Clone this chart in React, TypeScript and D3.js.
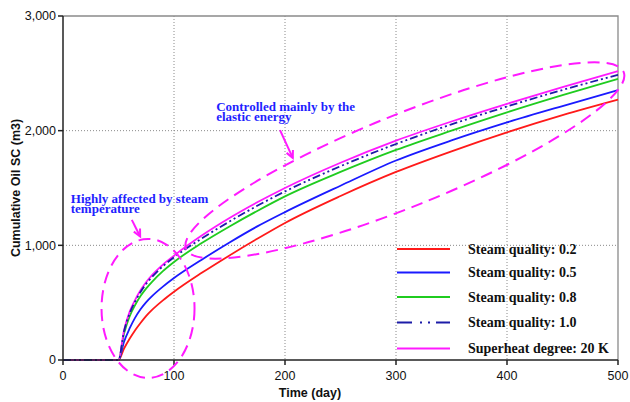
import * as d3 from 'd3';

// Time axis (day) and cumulative oil SC (m3)
const days = [0, 50, 55, 60, 65, 70, 75, 80, 90, 100, 125, 150, 175, 200, 250, 300, 350, 400, 450, 500];
const quality02 = [0, 0, 100, 185, 260, 325, 385, 435, 520, 595, 760, 912, 1057, 1195, 1430, 1640, 1820, 1985, 2135, 2270];
const quality05 = [0, 0, 160, 275, 370, 445, 505, 555, 640, 715, 875, 1025, 1165, 1290, 1520, 1740, 1915, 2072, 2215, 2353];
const quality08 = [0, 0, 230, 380, 480, 560, 625, 680, 775, 855, 1020, 1165, 1300, 1427, 1640, 1832, 2000, 2160, 2310, 2452];
const quality10 = [0, 0, 250, 405, 510, 595, 665, 722, 818, 895, 1060, 1208, 1345, 1470, 1690, 1884, 2055, 2211, 2355, 2487];
const superheat20 = [0, 0, 260, 420, 525, 610, 680, 738, 832, 910, 1085, 1238, 1375, 1500, 1720, 1913, 2080, 2234, 2380, 2519];

const xTicks = [0, 100, 200, 300, 400, 500];
const yTicks = [0, 1000, 2000, 3000];

const legendLabels = [
  'Steam quality: 0.2',
  'Steam quality: 0.5',
  'Steam quality: 0.8',
  'Steam quality: 1.0',
  'Superheat degree: 20 K',
];

const W = 630;
const H = 402;
const margin = { top: 16, right: 12, bottom: 42, left: 63 };

const series = [
  { values: quality02, color: '#ff1a1a', dash: null, legendDash: null },
  { values: quality05, color: '#1a1aff', dash: null, legendDash: null },
  { values: quality08, color: '#1fcc1f', dash: null, legendDash: null },
  { values: superheat20, color: '#ff1aff', dash: null, legendDash: null },
  { values: quality10, color: '#1c1ca8', dash: '8,3,2,3,2,3', legendDash: '15,8,2,6,2,6' },
];
// legend order differs from drawing order
const legendOrder = [0, 1, 2, 4, 3];

const MAGENTA = '#ff1aff';
const NOTE_BLUE = '#1f1fff';

function arrowHead(x1: number, y1: number, x2: number, y2: number, len = 8) {
  const a = Math.atan2(y2 - y1, x2 - x1);
  const p1 = [x2 - len * Math.cos(a - 0.45), y2 - len * Math.sin(a - 0.45)];
  const p2 = [x2 - len * Math.cos(a + 0.45), y2 - len * Math.sin(a + 0.45)];
  return `M${p1[0]},${p1[1]}L${x2},${y2}L${p2[0]},${p2[1]}`;
}

export default function App() {
  const x = d3.scaleLinear().domain([0, 500]).range([margin.left, W - margin.right]);
  const y = d3.scaleLinear().domain([0, 3000]).range([H - margin.bottom, margin.top]);
  const x0 = x(0), x1 = x(500), y0 = y(0), y1 = y(3000);

  const line = d3.line<number>()
    .x((_, i) => x(days[i]))
    .y(d => y(d))
    .curve(d3.curveMonotoneX);

  // annotations (positions in data units)
  const smallEllipse = { cx: x(76.6), cy: y(450), rx: 46.5, ry: 69.5 };
  const bigEllipse = { cx: x(308), cy: y(1740), rx: 236, ry: 46, rot: -22 };
  const arrow1 = { x1: x(195.5), y1: y(2005), x2: x(207), y2: y(1762) };
  const arrow2 = { x1: x(62), y1: y(1222), x2: x(69.5), y2: y(1077) };

  const legendX = 397;
  const legendY0 = 249;
  const legendRows = [0, 23.5, 48, 73.5, 99.5];

  return (
    <svg width={W} height={H} style={{ position: 'absolute', left: 0, top: 0, background: '#fff' }}>
      {/* grid */}
      <g stroke="#8a8a8a" strokeWidth={1} strokeDasharray="1,2">
        {xTicks.slice(1, -1).map(t => (
          <line key={'gx' + t} x1={x(t)} x2={x(t)} y1={y1} y2={y0} />
        ))}
        {yTicks.slice(1, -1).map(t => (
          <line key={'gy' + t} x1={x0} x2={x1} y1={y(t)} y2={y(t)} />
        ))}
      </g>
      {/* top / right frame */}
      <path d={`M${x0},${y1}H${x1}V${y0}`} fill="none" stroke="#8a8a8a" strokeWidth={1.3} />

      {/* curves */}
      {series.map((s, i) => (
        <path key={i} d={line(s.values) || ''} fill="none" stroke={s.color} strokeWidth={1.8}
          strokeDasharray={s.dash || undefined} />
      ))}

      {/* axes */}
      <g stroke="#222" strokeWidth={1.5}>
        <line x1={x0} x2={x0} y1={y1} y2={y0} />
        <line x1={x0} x2={x1} y1={y0} y2={y0} />
        {yTicks.map(t => <line key={'ty' + t} x1={x0 - 5} x2={x0} y1={y(t)} y2={y(t)} />)}
        {xTicks.map(t => <line key={'tx' + t} x1={x(t)} x2={x(t)} y1={y0} y2={y0 + 5} />)}
      </g>
      <g fontFamily="'Liberation Sans', Arial, sans-serif" fontSize={12.5} fill="#111">
        {yTicks.map(t => (
          <text key={'ly' + t} x={x0 - 7} y={y(t)} dy="0.35em" textAnchor="end">{d3.format(',')(t)}</text>
        ))}
        {xTicks.map(t => (
          <text key={'lx' + t} x={x(t)} y={y0 + 20} textAnchor="middle">{t}</text>
        ))}
      </g>
      <text x={310} y={397} textAnchor="middle" fontFamily="'Liberation Sans', Arial, sans-serif"
        fontWeight="bold" fontSize={12.5} fill="#111">Time (day)</text>
      <text transform={`translate(20,${(y0 + y1) / 2}) rotate(-90)`} textAnchor="middle"
        fontFamily="'Liberation Sans', Arial, sans-serif" fontWeight="bold" fontSize={12.5} fill="#111">
        Cumulative Oil SC (m3)
      </text>

      {/* annotations */}
      <g fill="none" stroke={MAGENTA} strokeWidth={2} strokeDasharray="12,7">
        <ellipse cx={smallEllipse.cx} cy={smallEllipse.cy} rx={smallEllipse.rx} ry={smallEllipse.ry} />
        <ellipse cx={0} cy={0} rx={bigEllipse.rx} ry={bigEllipse.ry}
          transform={`translate(${bigEllipse.cx},${bigEllipse.cy}) rotate(${bigEllipse.rot})`} />
      </g>
      <g fill="none" stroke={MAGENTA} strokeWidth={2}>
        {[arrow1, arrow2].map((a, i) => (
          <g key={i}>
            <line x1={a.x1} y1={a.y1} x2={a.x2} y2={a.y2} />
            <path d={arrowHead(a.x1, a.y1, a.x2, a.y2)} />
          </g>
        ))}
      </g>
      <g fontFamily="'Liberation Serif', 'Times New Roman', serif" fontWeight="bold" fontSize={13} fill={NOTE_BLUE}>
        <text x={x(138)} y={y(2172)}>Controlled mainly by the</text>
        <text x={x(138)} y={y(2172) + 10.5}>elastic energy</text>
        <text x={x(7)} y={y(1373)}>Highly affected by steam</text>
        <text x={x(7)} y={y(1373) + 10.5}>temperature</text>
      </g>

      {/* legend */}
      <g>
        {legendOrder.map((si, row) => {
          const s = series[si];
          const ly = legendY0 + legendRows[row];
          return (
            <g key={row}>
              <line x1={legendX} x2={legendX + 53} y1={ly} y2={ly} stroke={s.color} strokeWidth={2}
                strokeDasharray={s.legendDash || undefined} />
              <text x={legendX + 71} y={ly} dy="0.35em" fontFamily="'Liberation Serif', 'Times New Roman', serif"
                fontWeight="bold" fontSize={14} fill="#111">{legendLabels[row]}</text>
            </g>
          );
        })}
      </g>
    </svg>
  );
}
